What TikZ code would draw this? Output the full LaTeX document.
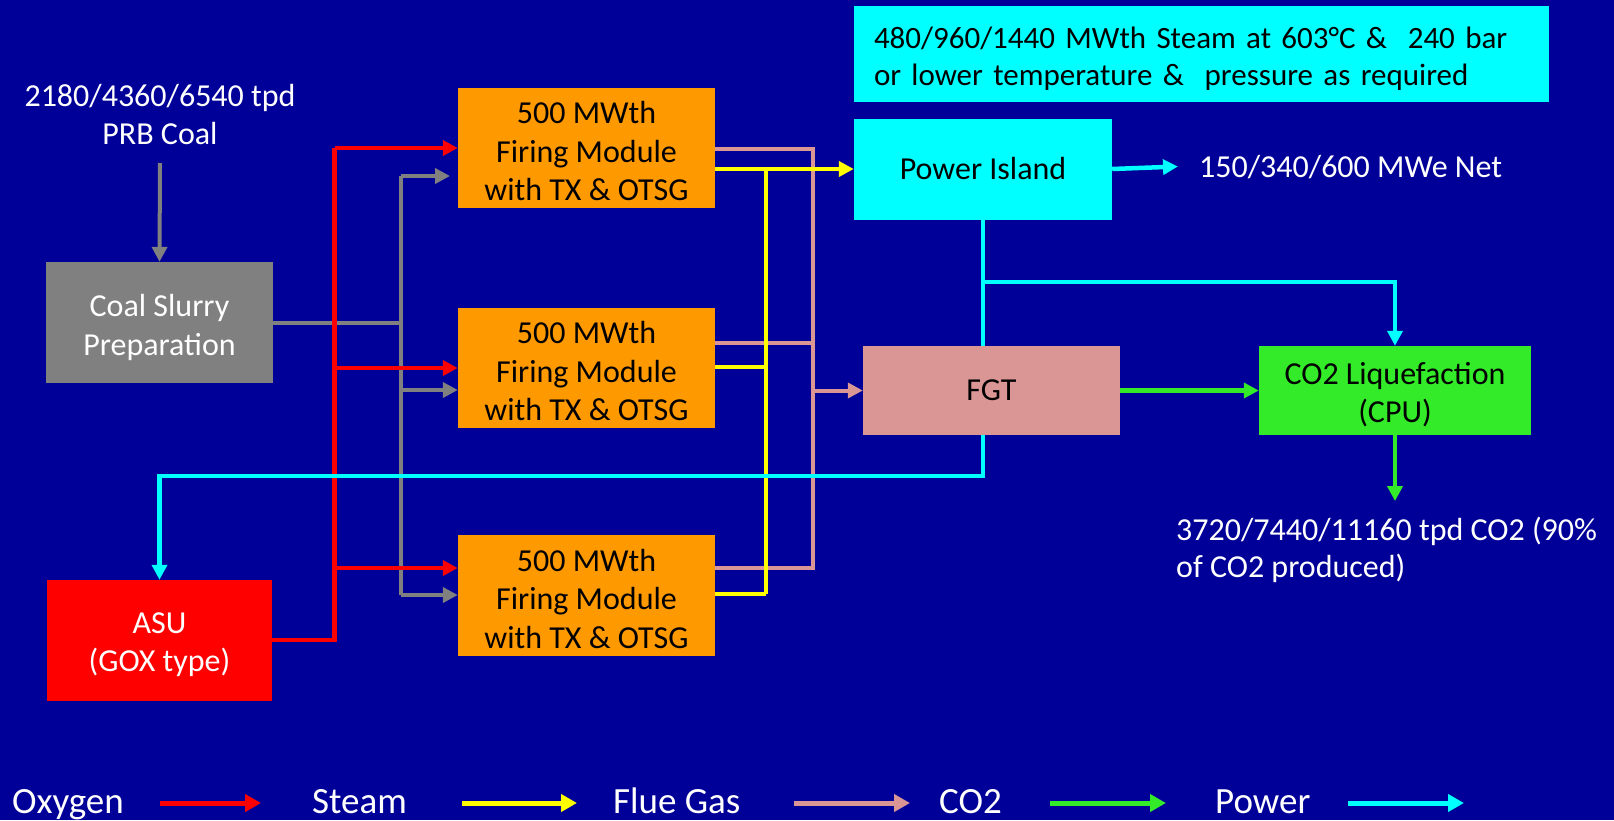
\documentclass[tikz,border=0pt]{standalone}
\usepackage{fontspec}
\setmainfont{Carlito}
\usetikzlibrary{arrows.meta}
\definecolor{bg}{RGB}{0,0,153}
\definecolor{orng}{RGB}{255,153,0}
\definecolor{cyn}{RGB}{0,255,255}
\definecolor{gry}{RGB}{128,128,128}
\definecolor{rd}{RGB}{255,0,0}
\definecolor{pnk}{RGB}{217,150,148}
\definecolor{grn}{RGB}{51,235,40}
\definecolor{ylw}{RGB}{255,255,0}
\begin{document}
\begin{tikzpicture}[x=1pt,y=-1pt,
  box/.style={inner sep=0pt, align=center, font=\fontsize{32}{38.5}\selectfont},
  lbl/.style={inner sep=0pt, align=left, anchor=west, text=white, font=\fontsize{32}{37}\selectfont},
  leg/.style={inner sep=0pt, anchor=base west, text=white, font=\fontsize{37}{40}\selectfont},
  conn/.style={line width=4.5pt},
  gconn/.style={line width=4pt, gry},
  tipd/.style={-{Triangle[length=15pt,width=15pt]}},
  legarrow/.style={line width=5pt, -{Triangle[length=16pt,width=17pt]}}
]
\fill[bg] (0,0) rectangle (1614,820);
\useasboundingbox (0,0) rectangle (1614,820);

% boxes
\node[box, fill=orng, minimum width=257pt, minimum height=120pt] (fm1) at (586.5,148) {\rule{0pt}{29pt}500 MWth\\Firing Module\\with TX \& OTSG};
\node[box, fill=orng, minimum width=257pt, minimum height=120pt] (fm2) at (586.5,368) {\rule{0pt}{29pt}500 MWth\\Firing Module\\with TX \& OTSG};
\node[box, fill=orng, minimum width=257pt, minimum height=121pt] (fm3) at (586.5,595.5) {\rule{0pt}{29pt}500 MWth\\Firing Module\\with TX \& OTSG};
\node[box, fill=gry, text=white, minimum width=227pt, minimum height=121pt] (coal) at (159.5,322.5) {\rule{0pt}{32pt}Coal Slurry\\Preparation};
\node[box, fill=rd, text=white, minimum width=225pt, minimum height=121pt] (asu) at (159.5,640.5) {\rule{0pt}{29pt}ASU\\(GOX type)};
\node[box, fill=cyn, minimum width=258pt, minimum height=101pt] (pi) at (983,169) {Power Island};
\node[box, fill=pnk, minimum width=257pt, minimum height=89pt] (fgt) at (991.5,390.5) {FGT};
\node[box, fill=grn, minimum width=272pt, minimum height=89pt] (co2) at (1395,390.5) {\rule{0pt}{30pt}CO2 Liquefaction\\(CPU)};
\node[box, font=\fontsize{31}{37}\selectfont, fill=cyn, minimum width=695pt, minimum height=96pt, text width=655pt, align=left] (top) at (1201.5,54) {\rule{0pt}{30pt}480/960/1440 MWth Steam at 603°C \&~ 240 bar\\or lower temperature \&~ pressure as required};

% free labels
\node[box, text=white] (coaltxt) at (160,114.5) {2180/4360/6540 tpd\\PRB Coal};
\node[lbl] (mwe) at (1199,167) {150/340/600 MWe Net};
\node[lbl] (co2txt) at (1176,550) {3720/7440/11160 tpd CO2 (90\%\\of CO2 produced)};

\coordinate (cin) at (160,163);
\coordinate (pout) at (1178,166.5);
\coordinate (co2out) at (1395,501);

% coal feed
\draw[gconn, tipd] (cin) -- (coal.north);

% flue gas (pink)
\draw[conn, pnk, line width=4pt] (fm1.east |- 0,149) -- (812.5,149) -- (812.5,568) -- (fm3.east |- 0,568);
\draw[conn, pnk, line width=4pt] (fm2.east |- 0,343) -- (812.5,343);
\draw[conn, pnk, line width=4pt, tipd] (812.5,390.5) -- (fgt.west);

% coal slurry (gray)
\draw[gconn] (coal.east) -- (400.5,322.5);
\draw[gconn] (400.5,176) -- (400.5,595);
\draw[gconn, tipd] (400.5,176) -- (450,176);
\draw[gconn, tipd] (400.5,390) -- (fm2.west |- 0,390);
\draw[gconn, tipd] (400.5,595) -- (fm3.west |- 0,595);

% oxygen (red)
\draw[conn, rd] (asu.east |- 0,640) -- (334.5,640) -- (334.5,148);
\draw[conn, rd, tipd] (334.5,148) -- (fm1.west);
\draw[conn, rd, tipd] (334.5,368) -- (fm2.west);
\draw[conn, rd, tipd] (334.5,568) -- (fm3.west |- 0,568);

% steam (yellow)
\draw[conn, ylw, tipd] (fm1.east |- 0,169) -- (pi.west);
\draw[conn, ylw] (766,169) -- (766,594);
\draw[conn, ylw] (fm2.east |- 0,367) -- (766,367);
\draw[conn, ylw] (fm3.east |- 0,594) -- (766,594);

% power (cyan)
\draw[conn, cyn, tipd] (pi.east) -- (pout);
\draw[conn, cyn] (pi.south) -- (pi.south |- fgt.north);
\draw[conn, cyn, tipd] (pi.south |- 0,282) -- (co2.north |- 0,282) -- (co2.north);
\draw[conn, cyn, tipd] (pi.south |- fgt.south) -- (pi.south |- 0,476) -- (asu.north |- 0,476) -- (asu.north);

% CO2 (green)
\draw[conn, grn, tipd] (fgt.east) -- (co2.west);
\draw[conn, grn, tipd] (co2.south) -- (co2out);

% legend
\node[leg] (lo) at (12,813) {Oxygen};
\node[leg] (ls) at (312,813) {Steam};
\node[leg] (lf) at (613,813) {Flue Gas};
\node[leg] (lc) at (939,813) {CO2};
\node[leg] (lp) at (1215,813) {Power};
\coordinate (a1) at (160,803); \coordinate (b1) at (261,803);
\coordinate (a2) at (462,803); \coordinate (b2) at (577,803);
\coordinate (a3) at (794,803); \coordinate (b3) at (910,803);
\coordinate (a4) at (1050,803); \coordinate (b4) at (1166,803);
\coordinate (a5) at (1348,803); \coordinate (b5) at (1464,803);
\draw[legarrow, rd] (a1) -- (b1);
\draw[legarrow, ylw] (a2) -- (b2);
\draw[legarrow, pnk] (a3) -- (b3);
\draw[legarrow, grn] (a4) -- (b4);
\draw[legarrow, cyn] (a5) -- (b5);
\end{tikzpicture}
\end{document}
